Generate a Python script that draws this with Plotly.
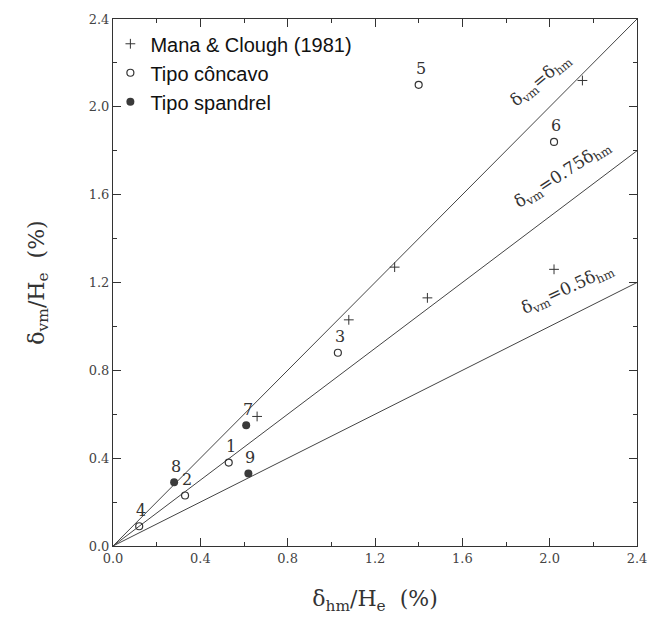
import plotly.graph_objects as go

# Mana & Clough (1981) test results
mc_x = [0.66, 1.08, 1.29, 1.44, 2.02, 2.15]
mc_y = [0.59, 1.03, 1.27, 1.13, 1.26, 2.12]

# Concave-type specimens
conc_ids = ["1", "2", "3", "4", "5", "6"]
conc_x = [0.53, 0.33, 1.03, 0.12, 1.40, 2.02]
conc_y = [0.38, 0.23, 0.88, 0.09, 2.10, 1.84]

# Spandrel-type specimens
span_ids = ["7", "8", "9"]
span_x = [0.61, 0.28, 0.62]
span_y = [0.55, 0.29, 0.33]

# Reference ratios delta_vm = k * delta_hm
ratios = [1.0, 0.75, 0.5]
ratio_labels = ["δ<sub>vm</sub>=δ<sub>hm</sub>",
                "δ<sub>vm</sub>=0.75δ<sub>hm</sub>",
                "δ<sub>vm</sub>=0.5δ<sub>hm</sub>"]
ratio_label_x = [1.96, 2.06, 2.08]
ratio_label_y = [2.12, 1.69, 1.17]
ratio_label_angle = [-40, -33, -25]

x_max = 2.4
ink = "#333333"
serif = "DejaVu Serif, Liberation Serif, serif"
sans = "Liberation Sans, Arial, sans-serif"

fig = go.Figure()

for k in ratios:
    fig.add_trace(go.Scatter(x=[0, x_max], y=[0, k * x_max], mode="lines",
                             line=dict(color="#444444", width=1),
                             showlegend=False, hoverinfo="skip"))

fig.add_trace(go.Scatter(x=mc_x, y=mc_y, mode="markers", name="Mana & Clough (1981)",
                         marker=dict(symbol="cross-thin", size=7, color=ink,
                                     line=dict(color=ink, width=1))))
fig.add_trace(go.Scatter(x=conc_x, y=conc_y, mode="markers", name="Tipo côncavo",
                         marker=dict(symbol="circle-open", size=7, color=ink,
                                     line=dict(color=ink, width=1.2))))
fig.add_trace(go.Scatter(x=span_x, y=span_y, mode="markers", name="Tipo spandrel",
                         marker=dict(symbol="circle", size=8, color="#3a3a3a")))

annotations = []
for ids, xs, ys in ((conc_ids, conc_x, conc_y), (span_ids, span_x, span_y)):
    for t, x, y in zip(ids, xs, ys):
        annotations.append(dict(x=x, y=y, text=t, showarrow=False, yshift=16, xshift=2,
                                font=dict(family=serif, size=16, color=ink)))

for t, x, y, a in zip(ratio_labels, ratio_label_x, ratio_label_y, ratio_label_angle):
    annotations.append(dict(x=x, y=y, text=t, showarrow=False, textangle=a,
                            font=dict(family=serif, size=17, color=ink)))

axis_common = dict(range=[0, x_max], dtick=0.4, tick0=0, tickformat=".1f",
                   ticks="inside", ticklen=8, tickcolor=ink, showline=True,
                   linecolor=ink, linewidth=1, mirror="ticks", showgrid=False,
                   zeroline=False,
                   minor=dict(ticks="inside", ticklen=4, dtick=0.2, tickcolor=ink),
                   tickfont=dict(family=serif, size=13, color="#444444"))

fig.update_layout(
    width=659, height=625,
    margin=dict(l=113, r=22, t=17, b=79),
    plot_bgcolor="white", paper_bgcolor="white",
    xaxis=dict(**axis_common,
               title=dict(text="δ<sub>hm</sub>/H<sub>e</sub>  (%)", standoff=26,
                          font=dict(family=serif, size=22, color=ink))),
    yaxis=dict(**axis_common,
               title=dict(text="δ<sub>vm</sub>/H<sub>e</sub>  (%)", standoff=38,
                          font=dict(family=serif, size=22, color=ink))),
    legend=dict(x=-0.005, y=0.99, xanchor="left", yanchor="top",
                bgcolor="rgba(0,0,0,0)",
                font=dict(family=sans, size=20, color="#111111"),
                tracegroupgap=0),
    annotations=annotations,
)

fig.write_html("out.html")
